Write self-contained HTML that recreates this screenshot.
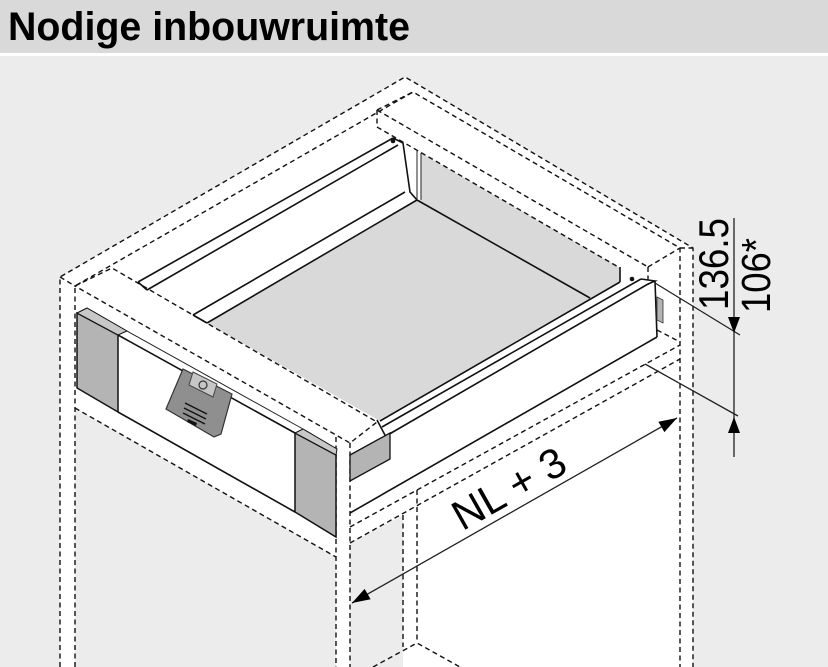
<!DOCTYPE html>
<html><head><meta charset="utf-8">
<style>
html,body{margin:0;padding:0;background:#ececec;}
svg{display:block;}
</style></head><body>
<svg width="828" height="667" viewBox="0 0 828 667" xmlns="http://www.w3.org/2000/svg">
<rect x="0" y="0" width="828" height="667" fill="#ececec"/>
<rect x="0" y="0" width="828" height="53" fill="#d9d9d9"/>
<rect x="0" y="53" width="828" height="3" fill="#ffffff"/>
<text x="8" y="40" font-family="'Liberation Sans', Arial, sans-serif" font-weight="bold" font-size="40" textLength="402" lengthAdjust="spacingAndGlyphs" fill="#000">Nodige inbouwruimte</text>

<!-- white body -->
<polygon fill="#fff" points="60,277 405,77 417,84 693,248 693,667 403,667 403,515 350,543 350,667 336,667 336,557 75,408 75,667 60,667"/>

<!-- drawer floor + back (gray) -->
<polygon fill="#d9d9d9" points="207,323 417,200 421,200 421,153 620,268 620,282 380,421"/>

<!-- dashed cabinet lines -->
<g fill="none" stroke="#111" stroke-width="1.4" stroke-dasharray="5,3.5">
  <polyline points="60,667 60,277 405,77 417,84 693,248 693,667"/>
  <polyline points="75,667 75,286 413,92 680,248 680,667"/>
  <line x1="60" y1="277" x2="75" y2="286"/>
  <line x1="680" y1="248" x2="693" y2="248"/>
  <line x1="377" y1="110" x2="648" y2="267"/>
  <line x1="648" y1="267" x2="680" y2="248"/>
  <line x1="377" y1="110" x2="413" y2="92"/>
  <line x1="377" y1="110" x2="377" y2="127"/>
  <line x1="377" y1="127" x2="620" y2="268"/>
  <line x1="648" y1="267" x2="648" y2="285"/>
  <polygon points="75,286 112,268 377,422 350,443"/>
  <line x1="336" y1="437" x2="336" y2="667"/>
  <line x1="350" y1="443" x2="350" y2="667"/>
  <line x1="75" y1="408" x2="336" y2="557"/>
  <line x1="350" y1="527" x2="680" y2="345"/>
  <line x1="350" y1="543" x2="680" y2="359"/>
  <line x1="657" y1="330" x2="680" y2="342"/>
  <line x1="403" y1="515" x2="403" y2="647"/>
  <line x1="417" y1="490" x2="417" y2="643"/>
  <polyline points="373,667 417,643 460,667"/>
</g>

<!-- far drawer side -->
<g fill="none" stroke="#111" stroke-width="1.6">
  <line x1="138" y1="282" x2="393" y2="138"/>
  <line x1="147" y1="290" x2="398" y2="145"/>
  <line x1="138" y1="282" x2="147" y2="290"/>
  <line x1="193" y1="315" x2="405" y2="192"/>
  <line x1="207" y1="323" x2="417" y2="200"/>
  <line x1="193" y1="315" x2="207" y2="323"/>
  <polyline points="393,138 403,143 410,192 417,200"/>
  <line x1="417" y1="200" x2="590" y2="298"/>
  <line x1="620" y1="267" x2="620" y2="282"/>
</g>
<g fill="none" stroke="#222" stroke-width="1">
  <line x1="417" y1="150" x2="417" y2="200"/>
  <line x1="421" y1="153" x2="421" y2="200"/>
</g>

<!-- near drawer side -->
<g fill="none" stroke="#111" stroke-width="1.6">
  <line x1="380" y1="421" x2="620" y2="282"/>
  <line x1="382" y1="427" x2="641" y2="279"/>
  <line x1="386" y1="436" x2="648" y2="284"/>
  <polyline points="641,279 655,281 648,284"/>
  <line x1="655" y1="281" x2="657" y2="337"/>
  <line x1="350" y1="513" x2="657" y2="337"/>
  <line x1="377" y1="420" x2="386" y2="437"/>
</g>
<polygon points="350,455 390,433 390,459 350,481" fill="#b4b4b4" stroke="#111" stroke-width="1.3"/>
<polygon points="657,297 663,300 663,323 657,320" fill="#b4b4b4" stroke="#333" stroke-width="0.8"/>
<circle cx="393" cy="141" r="2.3" fill="#111"/>
<circle cx="632" cy="279" r="2.3" fill="#111"/>

<!-- drawer front -->
<polygon points="77,313 118,335 118,412 77,388" fill="#b4b4b4" stroke="#111" stroke-width="1.5"/>
<polygon points="77,313 87,308 127,331 118,335" fill="#c8c8c8" stroke="#111" stroke-width="1"/>
<polygon points="295,433 336,455 336,537 295,512" fill="#b4b4b4" stroke="#111" stroke-width="1.5"/>
<polygon points="295,433 303,429 337,449 336,455" fill="#c8c8c8" stroke="#111" stroke-width="1"/>
<g fill="none" stroke="#111" stroke-width="1.6">
  <line x1="118" y1="335" x2="295" y2="433"/>
  <line x1="118" y1="412" x2="295" y2="512"/>
</g>
<line x1="127" y1="331" x2="303" y2="429" stroke="#222" stroke-width="1"/>

<!-- handle -->
<polygon points="183,369 232,394 221,434 214,437 166,409" fill="#8f8f8f" stroke="#333" stroke-width="1.2"/>
<polygon points="193,372 217,384 213,397 189,385" fill="#c6c6c6" stroke="#444" stroke-width="1"/>
<circle cx="203" cy="385" r="4" fill="none" stroke="#333" stroke-width="1.2"/>
<g stroke="#111" stroke-width="1.4">
  <line x1="185" y1="403" x2="207" y2="414"/>
  <line x1="184" y1="408" x2="206" y2="419"/>
  <line x1="183" y1="413" x2="205" y2="424"/>
</g>
<polygon points="188,419 197,423 196,426 187,422" fill="#111"/>

<!-- dimensions -->
<g stroke="#222" stroke-width="1.3" fill="none">
  <line x1="734" y1="218" x2="734" y2="457"/>
  <line x1="655" y1="283" x2="740" y2="335"/>
  <line x1="645" y1="364" x2="738" y2="416"/>
  <line x1="352" y1="603" x2="677" y2="418"/>
</g>
<polygon points="728,317 740,317 734,333" fill="#000"/>
<polygon points="728,433 740,433 734,417" fill="#000"/>
<polygon points="677,418 664.4,432.1 658.4,421.7" fill="#000"/>
<polygon points="352,603 370.6,599.3 364.6,588.9" fill="#000"/>

<g font-family="'Liberation Sans', Arial, sans-serif" fill="#000">
  <text transform="translate(728,310) rotate(-90)" font-size="42" textLength="92" lengthAdjust="spacingAndGlyphs">136.5</text>
  <text transform="translate(770,313) rotate(-90)" font-size="41" textLength="75" lengthAdjust="spacingAndGlyphs">106*</text>
  <text transform="translate(516,501) rotate(-29.5)" font-size="42" text-anchor="middle">NL + 3</text>
</g>
</svg>
</body></html>
